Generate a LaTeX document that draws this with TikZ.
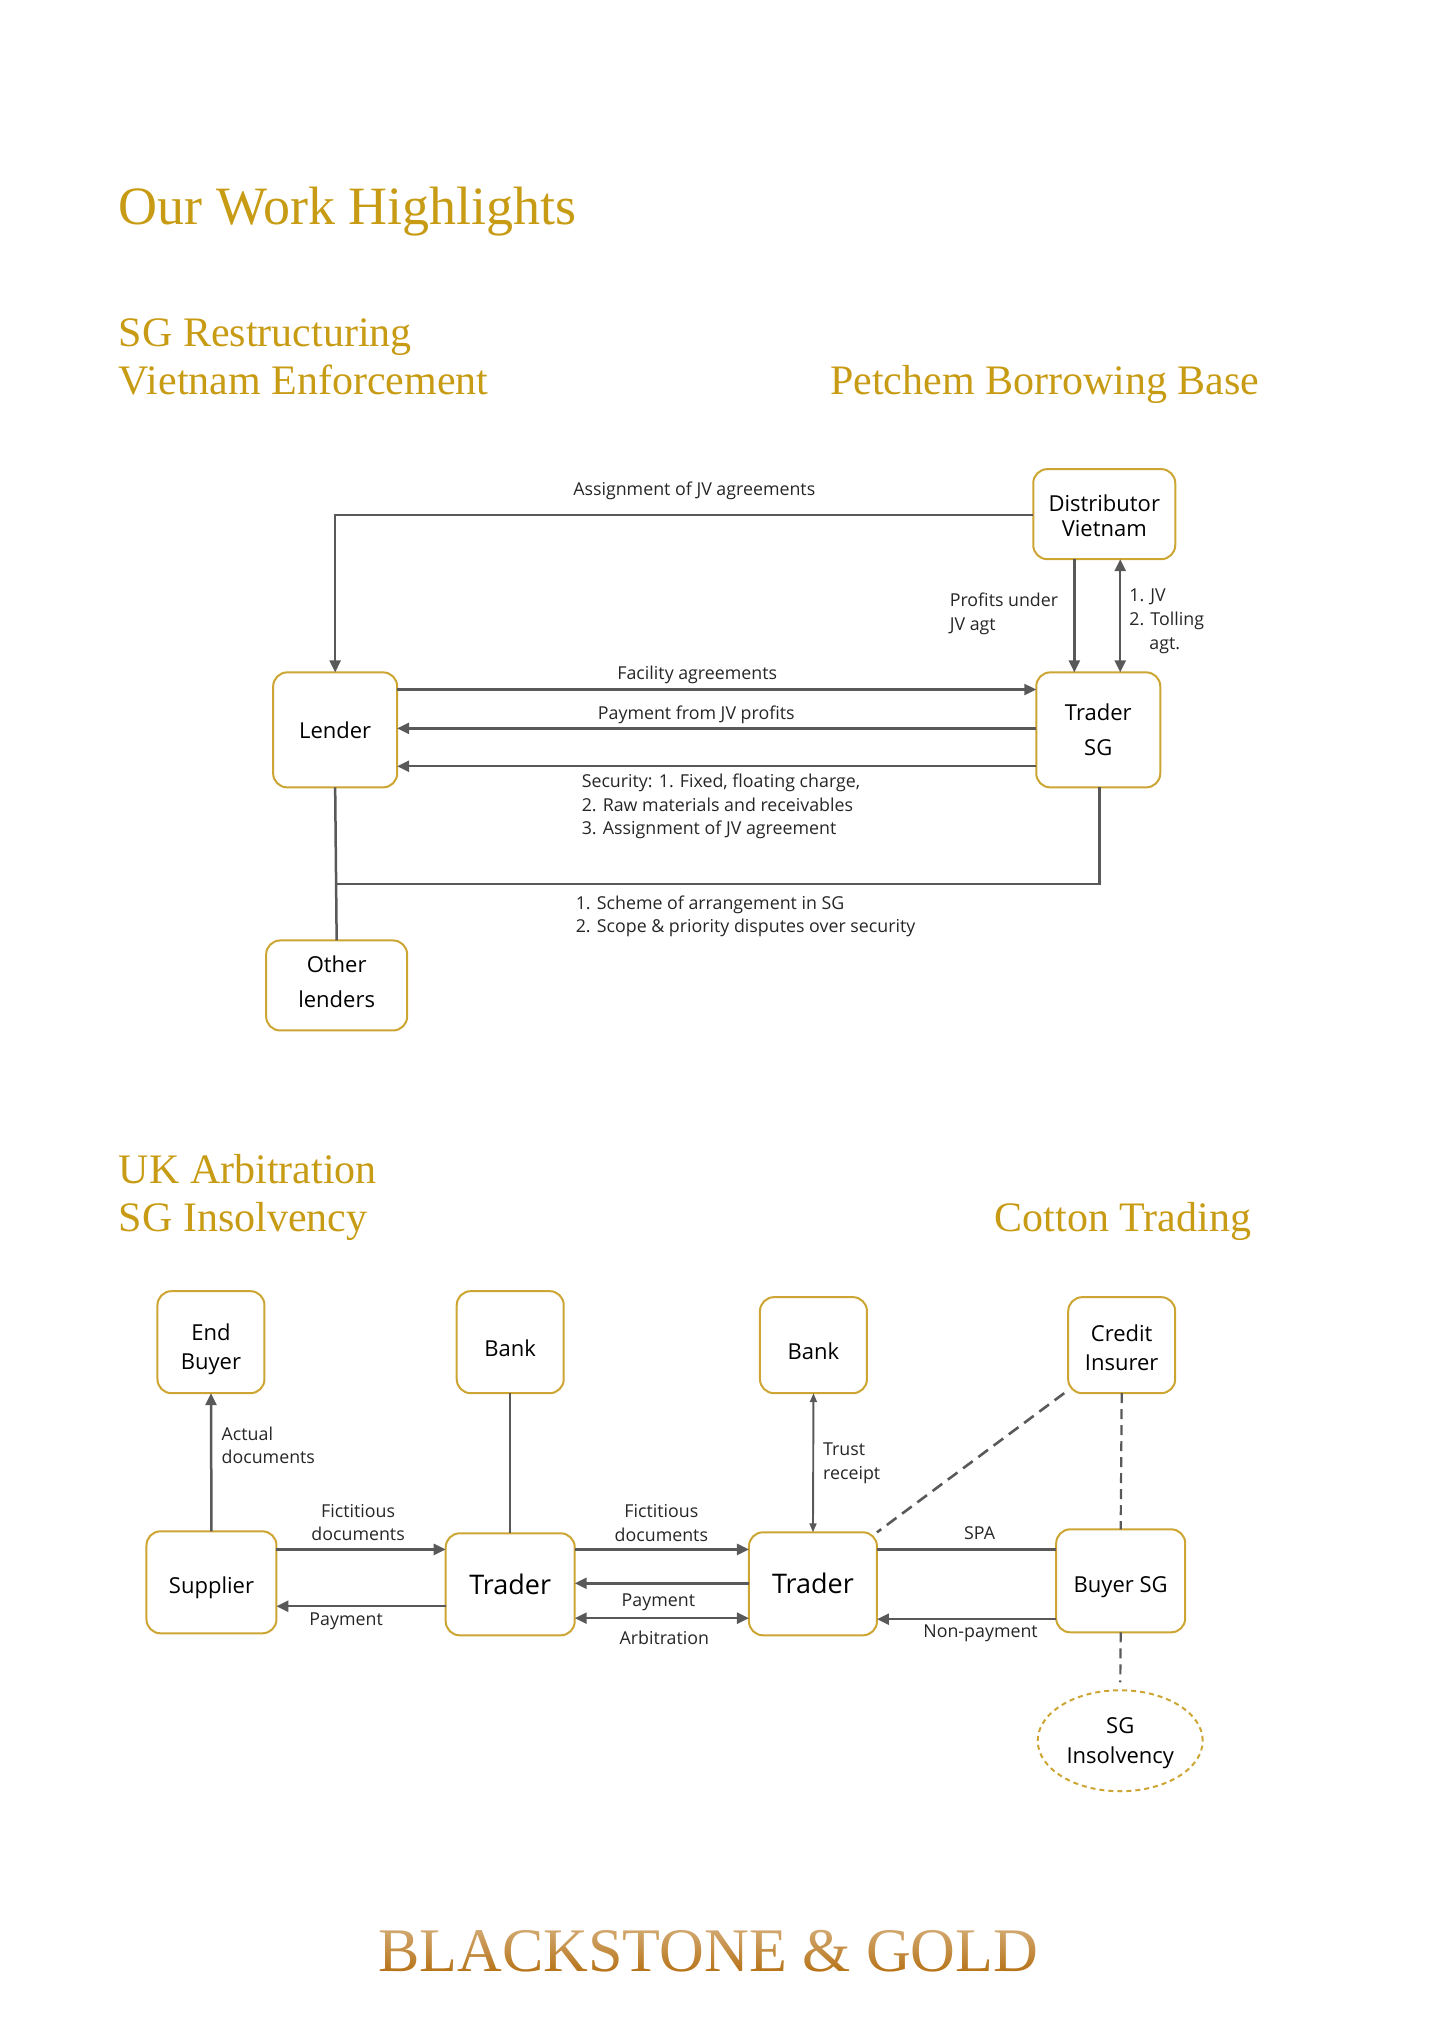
\documentclass[tikz,border=0pt]{standalone}
\usepackage{fontspec}
\setmainfont{Open Sans}
\newfontfamily\titleFont{Liberation Serif}
\usetikzlibrary{arrows.meta,shapes.geometric,fadings}
\definecolor{goldColor}{RGB}{200,155,20}
\definecolor{boxColor}{RGB}{205,165,50}
\definecolor{lineColor}{RGB}{89,89,89}
\definecolor{inkColor}{RGB}{38,38,38}
\definecolor{footerColor}{RGB}{180,110,15}
\tikzstyle{page} = [x = .9975pt, y = -.9964pt]
\tikzstyle{partyStyle} = [draw=boxColor, line width=2pt, rounded corners = 14pt, fill=white, inner sep=0pt, outer sep=0pt, align=center, text=black, font=\fontsize{22}{26}\selectfont]
\tikzstyle{titleText} = [anchor=base west, inner sep=0pt, text=goldColor]
\tikzstyle{flowText} = [inner sep=0pt, text=inkColor, font=\fontsize{17.8}{23.6}\selectfont]
\tikzstyle{flowLine} = [draw=lineColor, line width=2.5pt]
\tikzstyle{thinLine} = [draw=lineColor, line width=1.9pt]
\tikzstyle{flowArrow} = [flowLine, -{Triangle[length=12pt,width=11pt]}]
\tikzstyle{bothArrow} = [flowLine, {Triangle[length=12pt,width=11pt]}-{Triangle[length=12pt,width=11pt]}]
\tikzstyle{smallBoth} = [thinLine, {Triangle[length=9pt,width=7pt]}-{Triangle[length=9pt,width=7pt]}]
\tikzstyle{dashLine} = [draw=lineColor, line width=2.2pt, dash pattern=on 10pt off 6pt]
\tikzstyle{wideDash} = [draw=lineColor, line width=2.6pt, dash pattern=on 12pt off 7pt]
\newcommand{\partyBox}[6]{\node [partyStyle, minimum width={(#4-#2)*1pt}, minimum height={(#5-#3)*1pt}] (#1) at ({(#2+#4)/2},{(#3+#5)/2}) {#6};}
\newcommand{\flowLabel}[4]{\node [flowText, align=center] (#1) at (#2,#3) {#4};}
\newcommand{\sideLabel}[4]{\node [flowText, align=left, anchor=west] (#1) at (#2,#3) {#4};}
\newcommand{\sectionTitle}[4]{\node [titleText, font=\titleFont\fontsize{42}{42}\selectfont] (#1) at (#2,#3) {#4};}
\newcommand{\dropText}[1]{\rule{0pt}{#1}}

\begin{document}
\begin{tikzpicture}[page]
  \useasboundingbox (0,0) rectangle (1431.6,2035.3);
  % headings
  \node [titleText, font=\titleFont\fontsize{54}{54}\selectfont] (mainTitle) at (119,225.5) {Our Work Highlights};
  \sectionTitle{restructTitle}{119}{348}{SG Restructuring}
  \sectionTitle{vietnamTitle}{119}{395.5}{Vietnam Enforcement}
  \sectionTitle{petchemTitle}{832}{395.5}{Petchem Borrowing Base}
  \sectionTitle{arbitrationTitle}{119}{1188}{UK Arbitration}
  \sectionTitle{insolvencyTitle}{119}{1236}{SG Insolvency}
  \sectionTitle{cottonTitle}{997}{1236}{Cotton Trading}

  % upper diagram
  \partyBox{distributor}{1036}{471}{1178}{561}{\dropText{19pt}Distributor\\[-1pt]Vietnam}
  \partyBox{lender}{274}{675}{398}{790}{Lender}
  \partyBox{traderSG}{1039}{675}{1163}{790}{Trader\\[9pt]SG}
  \partyBox{otherLenders}{267}{944}{408}{1034}{Other\\[9pt]lenders\rule[-7pt]{0pt}{7pt}}
  \draw [flowArrow] (distributor.west |- 0,517) -| (lender.north);
  \draw [flowArrow] (distributor.south -| 1077,0) -- (traderSG.north -| 1077,0);
  \draw [bothArrow] (distributor.south -| 1123,0) -- (traderSG.north -| 1123,0);
  \draw [flowArrow] (lender.east |- 0,692) -- (traderSG.west |- 0,692);
  \draw [flowArrow] (traderSG.west |- 0,731) -- (lender.east |- 0,731);
  \draw [flowArrow] (traderSG.west |- 0,769) -- (lender.east |- 0,769);
  \draw [flowLine] (traderSG.south -| 1102,0) |- (lender.south |- 0,887);
  \draw [flowLine] (lender.south) -- (otherLenders.north);
  \flowLabel{assignLabel}{696}{492.5}{Assignment of JV agreements}
  \sideLabel{profitLabel}{952}{616}{Profits under\\JV agt}
  \sideLabel{tollingLabel}{1132}{623.5}{1. JV\\2. Tolling\\\hspace*{20pt}agt.}
  \flowLabel{facilityLabel}{699}{677.5}{Facility agreements}
  \flowLabel{paymentLabel}{698}{717.5}{Payment from JV profits}
  \sideLabel{securityLabel}{583}{809.5}{Security: 1. Fixed, floating charge,\\2. Raw materials and receivables\\3. Assignment of JV agreement}
  \sideLabel{schemeLabel}{577}{919.5}{1. Scheme of arrangement in SG\\2. Scope \& priority disputes over security}

  % lower diagram
  \partyBox{endBuyer}{158}{1296}{265}{1398}{\dropText{30pt}End\\[3pt]Buyer}
  \partyBox{bankLeft}{458}{1296}{565}{1398}{\dropText{28pt}Bank}
  \partyBox{bankRight}{762}{1302}{869}{1398}{\dropText{28pt}Bank}
  \partyBox{creditInsurer}{1071}{1302}{1178}{1398}{\dropText{22pt}Credit\\[3pt]Insurer}
  \partyBox{supplier}{147}{1537}{277}{1639}{\dropText{28pt}Supplier}
  \partyBox{traderLeft}{447}{1539}{576}{1641}{\fontsize{27}{30}\selectfont Trader}
  \partyBox{traderRight}{751}{1538}{879}{1641}{\fontsize{27}{30}\selectfont Trader}
  \partyBox{buyerSG}{1059}{1535}{1188}{1638}{\dropText{28pt}Buyer SG}
  \node [draw=boxColor, line width=2pt, dash pattern=on 5pt off 4pt, ellipse, minimum width=165pt, minimum height=101pt, inner sep=0pt, outer sep=0pt, align=center, font=\fontsize{22}{30}\selectfont] (sgInsolvency) at (1123,1747) {\dropText{21pt}SG\\Insolvency};
  \draw [flowArrow] (supplier.north) -- (endBuyer.south);
  \draw [thinLine] (bankLeft.south) -- (traderLeft.north);
  \draw [smallBoth] (bankRight.south) -- (traderRight.north);
  \draw [flowArrow] (supplier.east |- 0,1555) -- (traderLeft.west |- 0,1555);
  \draw [flowArrow] (traderLeft.west |- 0,1612) -- (supplier.east |- 0,1612);
  \draw [flowArrow] (traderLeft.east |- 0,1555) -- (traderRight.west |- 0,1555);
  \draw [flowArrow] (traderRight.west |- 0,1589) -- (traderLeft.east |- 0,1589);
  \draw [bothArrow] (traderLeft.east |- 0,1624) -- (traderRight.west |- 0,1624);
  \draw [flowLine] (traderRight.east |- 0,1555) -- (buyerSG.west |- 0,1555);
  \draw [flowArrow] (buyerSG.west |- 0,1625) -- (traderRight.east |- 0,1625);
  \draw [wideDash] ([xshift=-4pt]creditInsurer.south west) -- (traderRight.north east);
  \draw [dashLine] (creditInsurer.south) -- (buyerSG.north);
  \draw [dashLine, shorten >=8pt] (buyerSG.south) -- (sgInsolvency.north);
  \sideLabel{actualLabel}{222}{1450.5}{Actual\\documents}
  \flowLabel{fictLeftLabel}{359}{1528}{Fictitious\\documents}
  \flowLabel{fictRightLabel}{663}{1528.5}{Fictitious\\documents}
  \flowLabel{payLeftLabel}{347}{1627.5}{Payment}
  \flowLabel{payRightLabel}{660}{1608.5}{Payment}
  \flowLabel{arbLabel}{666}{1644}{Arbitration}
  \sideLabel{trustLabel}{825}{1468.5}{Trust\\receipt}
  \flowLabel{spaLabel}{982}{1539}{SPA}
  \flowLabel{nonPayLabel}{983}{1639}{Non-payment}

  % footer
  \node [anchor=base, inner sep=0pt, text=footerColor, font=\titleFont\fontsize{62}{62}\selectfont] (firmName) at (710,1979) {BLACKSTONE \& GOLD};
  \fill [white, fill opacity=.5, path fading=south] (370,1925) rectangle (1050,1983);
\end{tikzpicture}
\end{document}
